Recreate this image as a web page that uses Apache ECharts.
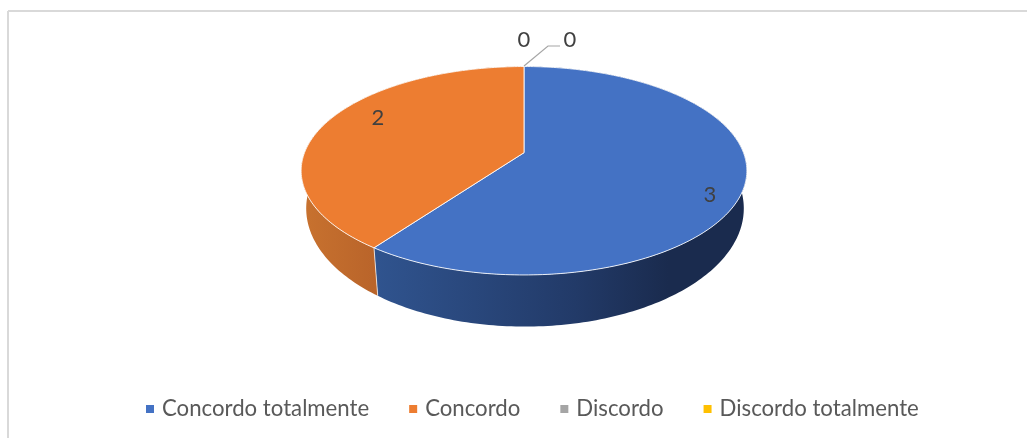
<!DOCTYPE html>
<html><head><meta charset="utf-8">
<style>html,body{margin:0;padding:0;background:#fff}#c{width:1027px;height:438px}</style>
<script src="https://cdn.jsdelivr.net/npm/echarts@6/dist/echarts.min.js"></script>
</head><body><div id="c"></div>
<script>
var categories = ['Concordo totalmente', 'Concordo', 'Discordo', 'Discordo totalmente'];
var values = [3, 2, 0, 0];
var colors = ['#4472C4', '#ED7D31', '#A5A5A5', '#FFC000'];
var total = values.reduce(function (a, b) { return a + b; }, 0);
var startFrac = [];
values.reduce(function (acc, v, i) { startFrac[i] = acc / total; return acc + v; }, 0);

// Perspective model of the tilted pie
var K = 0.173;
var TOP = {cx: 524, cy: 152.7, rx: 219.5, ry: 101.1};
var BOT = {cx: 525, cy: 188, rx: 215.5, ry: 114.6};
function project(p, deg) {
  var t = deg * Math.PI / 180, s = Math.sin(t), c = Math.cos(t), w = 1 / (1 + K * c);
  return [p.cx + p.rx * s * w, p.cy - p.ry * c * w];
}
function arc(p, a0, a1) {
  var pts = [], n = Math.max(2, Math.ceil(Math.abs(a1 - a0)));
  for (var i = 0; i <= n; i++) pts.push(project(p, a0 + (a1 - a0) * i / n));
  return pts;
}
var wallGrad = [
  new echarts.graphic.LinearGradient(373, 0, 742, 0, [
    {offset: 0, color: '#30548F'}, {offset: 0.55, color: '#223A68'}, {offset: 0.8, color: '#1A2B4E'}, {offset: 1, color: '#1A2B4E'}], true),
  new echarts.graphic.LinearGradient(302, 0, 376, 0, [
    {offset: 0, color: '#C8722F'}, {offset: 1, color: '#B9642A'}], true)
];
function wallItem(params, api) {
  var i = params.dataIndex, v = api.value(0);
  if (!v) return {type: 'group', children: []};
  var a0 = startFrac[i] * 360, a1 = a0 + v / total * 360;
  var pts = arc(TOP, a0, a1).concat(arc(BOT, a1, a0));
  return {type: 'polygon', shape: {points: pts}, style: {fill: wallGrad[i] || colors[i]}, silent: true};
}
function topItem(idx) {
  return function (params, api) {
    var v = api.value(0);
    if (!v) return {type: 'group', children: []};
    var a0 = startFrac[idx] * 360, a1 = a0 + v / total * 360;
    var pts = [[TOP.cx, TOP.cy]].concat(arc(TOP, a0, a1));
    return {type: 'polygon', shape: {points: pts},
      style: {fill: colors[idx], stroke: 'rgba(255,255,255,0.85)', lineWidth: 1, lineJoin: 'round'}};
  };
}
var labelSpots = [[710, 195], [378, 118], [524, 40], [570, 40]];
function labelItem(params, api) {
  var i = params.dataIndex;
  return {type: 'text', x: labelSpots[i][0], y: labelSpots[i][1],
    style: {text: String(api.value(0)), font: '22px Lato, "Noto Sans", sans-serif', fill: '#404040', align: 'center', verticalAlign: 'middle'}, silent: true};
}
var series = [
  {name: 'wall', type: 'custom', coordinateSystem: 'none', renderItem: wallItem, data: values, z: 1, silent: true, tooltip: {show: false}},
  {name: 'splitEdge', type: 'custom', coordinateSystem: 'none', z: 1.5, silent: true, data: [startFrac[1] * 360],
   renderItem: function (p, api) {
     var a = api.value(0), t = project(TOP, a), b = project(BOT, a);
     return {type: 'line', shape: {x1: t[0], y1: t[1], x2: b[0], y2: b[1]}, style: {stroke: 'rgba(255,255,255,0.7)', lineWidth: 1}};
   }}
];
categories.forEach(function (name, i) {
  series.push({name: name, type: 'custom', coordinateSystem: 'none', renderItem: topItem(i),
    data: [values[i]], z: 2, itemStyle: {color: colors[i]}});
});
series.push({name: 'labels', type: 'custom', coordinateSystem: 'none', renderItem: labelItem, data: values, z: 4, silent: true});

var chart = echarts.init(document.getElementById('c'), null, {renderer: 'canvas'});
chart.setOption({
  animation: false,
  backgroundColor: '#fff',
  legend: {
    data: categories.map(function (n, i) { return {name: n, icon: 'rect', itemStyle: {color: colors[i]}}; }),
    left: 146, top: 398, padding: 0, itemWidth: 8, itemHeight: 8, itemGap: 40, selectedMode: false,
    textStyle: {fontFamily: 'Lato, "Noto Sans", sans-serif', fontSize: 22.2, color: '#595959', padding: [0, 0, 0, 3]}
  },
  series: series,
  graphic: [
    {type: 'line', shape: {x1: 8, y1: 11, x2: 1027, y2: 11}, style: {stroke: '#D9D9D9', lineWidth: 2}, silent: true},
    {type: 'line', shape: {x1: 8, y1: 11, x2: 8, y2: 438}, style: {stroke: '#D9D9D9', lineWidth: 2}, silent: true},
    {type: 'polyline', shape: {points: [[524, 66], [548, 46], [560, 46]]}, style: {stroke: '#A6A6A6', fill: null, lineWidth: 1.2}, silent: true, z: 3}
  ]
});
</script></body></html>
